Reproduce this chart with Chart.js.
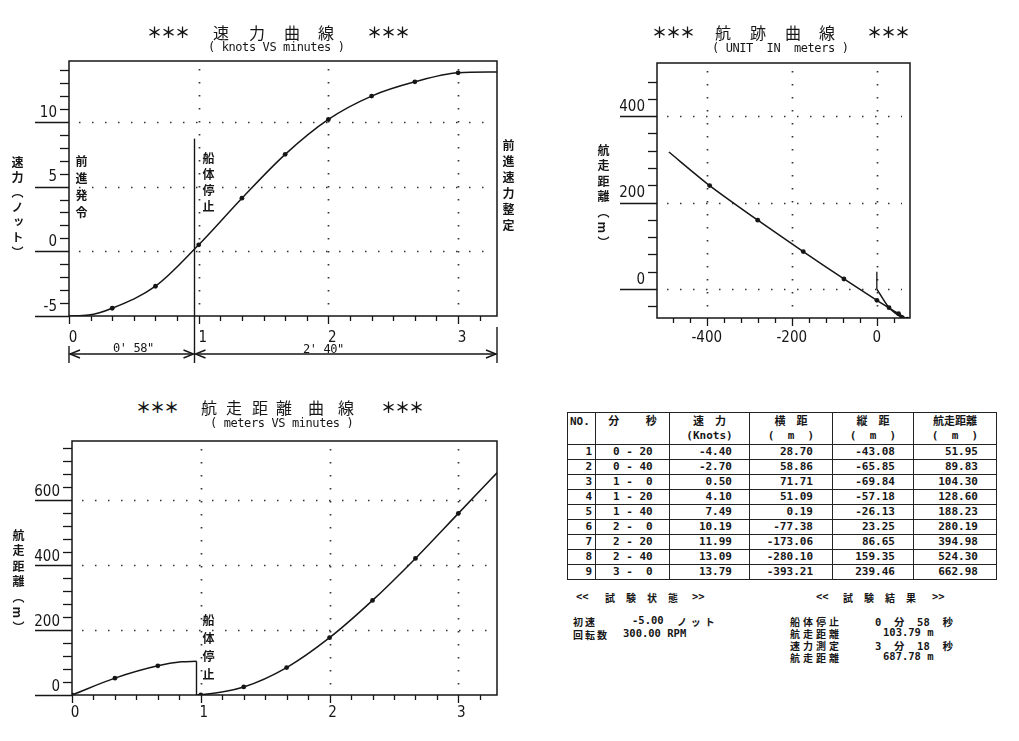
<!DOCTYPE html>
<html lang="ja">
<head>
<meta charset="utf-8">
<title>速力曲線</title>
<script src="https://cdn.jsdelivr.net/npm/chart.js@4.4.1/dist/chart.umd.min.js"></script>
<style>
  body { margin:0; width:1019px; height:741px; background:#fff; position:relative; overflow:hidden; color:#161616; }
  canvas { position:absolute; }
  .t { position:absolute; white-space:pre; line-height:1; }
  .ttl { font:16px 'Noto Sans CJK JP', sans-serif; }
  .star { font:bold 15px 'Noto Sans CJK JP', sans-serif; letter-spacing:-1px; }
  .sub { font:12px 'DejaVu Sans Mono', monospace; letter-spacing:-0.4px; }
  .v { position:absolute; writing-mode:vertical-rl; font:bold 12px 'Noto Sans CJK JP', sans-serif; line-height:1; width:13px; white-space:nowrap; }
  .sm { font:bold 10.5px 'DejaVu Sans Mono', 'Noto Sans CJK JP', monospace; }
  .kj { font:bold 10px 'Noto Sans CJK JP', sans-serif; }
  table { position:absolute; left:567px; top:412px; width:429px; border-collapse:collapse; table-layout:fixed;
          font:bold 11px 'DejaVu Sans Mono', 'Noto Sans CJK JP', monospace; }
  td, th { border:1px solid #222; padding:0; height:14px; line-height:14px; white-space:pre; }
  th { height:29px; vertical-align:top; text-align:center; font-weight:bold; padding-top:2px; }
  td { text-align:right; }
</style>
</head>
<body>

<canvas id="speedChart" width="520" height="335" style="left:0;top:40px"></canvas>
<canvas id="trackChart" width="439" height="330" style="left:580px;top:40px"></canvas>
<canvas id="runChart" width="520" height="321" style="left:0;top:420px"></canvas>

<!-- titles -->
<div class="t star" style="left:147px;top:21px">＊＊＊</div>
<div class="t ttl" style="left:213px;top:20px">速</div>
<div class="t ttl" style="left:249px;top:20px">力</div>
<div class="t ttl" style="left:284px;top:20px">曲</div>
<div class="t ttl" style="left:318px;top:20px">線</div>
<div class="t star" style="left:367px;top:21px">＊＊＊</div>
<div class="t sub" style="left:208px;top:40px">( knots VS minutes )</div>

<div class="t star" style="left:652px;top:21px">＊＊＊</div>
<div class="t ttl" style="left:715px;top:20px">航</div>
<div class="t ttl" style="left:750px;top:20px">跡</div>
<div class="t ttl" style="left:785px;top:20px">曲</div>
<div class="t ttl" style="left:819px;top:20px">線</div>
<div class="t star" style="left:867px;top:21px">＊＊＊</div>
<div class="t sub" style="left:712px;top:41px">( UNIT  IN  meters )</div>

<div class="t star" style="left:136px;top:396px">＊＊＊</div>
<div class="t ttl" style="left:201px;top:395px">航</div>
<div class="t ttl" style="left:226px;top:395px">走</div>
<div class="t ttl" style="left:252px;top:395px">距</div>
<div class="t ttl" style="left:276px;top:395px">離</div>
<div class="t ttl" style="left:308px;top:395px">曲</div>
<div class="t ttl" style="left:338px;top:395px">線</div>
<div class="t star" style="left:381px;top:396px">＊＊＊</div>
<div class="t sub" style="left:210px;top:416px">( meters VS minutes )</div>

<!-- vertical labels -->
<div class="v" style="left:10px;top:156px;letter-spacing:3px">速力（ノット）</div>
<div class="v" style="left:74px;top:155px;letter-spacing:5px">前進発令</div>
<div class="v" style="left:201px;top:152px;letter-spacing:4px">船体停止</div>
<div class="v" style="left:501px;top:139px;letter-spacing:4px">前進速力整定</div>
<div class="v" style="left:596px;top:144px;letter-spacing:3.5px">航走距離（m）</div>
<div class="v" style="left:201px;top:614px;letter-spacing:6px">船体停止</div>
<div class="v" style="left:11px;top:529px;letter-spacing:3.5px">航走距離（m）</div>

<div class="t sub" style="left:113px;top:341px">0' 58"</div>
<div class="t sub" style="left:303px;top:342px">2' 40"</div>

<!-- table -->
<table>
  <colgroup><col style="width:28px"><col style="width:74px"><col style="width:80px"><col style="width:83px"><col style="width:81px"><col style="width:83px"></colgroup>
  <thead><tr>
    <th style="text-align:left;padding-left:2px">NO.</th>
    <th>分    秒</th>
    <th>速　力<br>(Knots)</th>
    <th>横　距<br>(  m  )</th>
    <th>縦　距<br>(  m  )</th>
    <th>航走距離<br>(  m  )</th>
  </tr></thead>
  <tbody id="rows"></tbody>
</table>

<!-- test conditions / results -->
<div class="t sm" style="left:576px;top:590px">&lt;&lt;</div>
<div class="t kj" style="left:605px;top:590px;letter-spacing:11px">試験状態</div>
<div class="t sm" style="left:692px;top:590px">&gt;&gt;</div>
<div class="t kj" style="left:573px;top:614px;letter-spacing:2px">初速</div>
<div class="t sm" style="left:632px;top:614px">-5.00</div>
<div class="t kj" style="left:677px;top:614px;letter-spacing:4px">ノット</div>
<div class="t kj" style="left:573px;top:627px;letter-spacing:2px">回転数</div>
<div class="t sm" style="left:623px;top:627px">300.00 RPM</div>

<div class="t sm" style="left:816px;top:590px">&lt;&lt;</div>
<div class="t kj" style="left:843px;top:590px;letter-spacing:11px">試験結果</div>
<div class="t sm" style="left:932px;top:590px">&gt;&gt;</div>
<div class="t kj" style="left:790px;top:614px;letter-spacing:3px">船体停止</div>
<div class="t sm" style="left:875px;top:614px">0  分  58  秒</div>
<div class="t kj" style="left:790px;top:626px;letter-spacing:3px">航走距離</div>
<div class="t sm" style="left:883px;top:626px">103.79 m</div>
<div class="t kj" style="left:790px;top:638px;letter-spacing:3px">速力測定</div>
<div class="t sm" style="left:875px;top:638px">3  分  18  秒</div>
<div class="t kj" style="left:790px;top:650px;letter-spacing:3px">航走距離</div>
<div class="t sm" style="left:883px;top:650px">687.78 m</div>

<script>
// trial table (every 20 s)
const tableNo = [1, 2, 3, 4, 5, 6, 7, 8, 9];
const tableTimeLabel = ['0 - 20', '0 - 40', '1 -  0', '1 - 20', '1 - 40', '2 -  0', '2 - 20', '2 - 40', '3 -  0'];
const tableMinutes = [0.3333, 0.6667, 1, 1.3333, 1.6667, 2, 2.3333, 2.6667, 3];
const tableSpeed = [-4.40, -2.70, 0.50, 4.10, 7.49, 10.19, 11.99, 13.09, 13.79];
const tableLateral = [28.70, 58.86, 71.71, 51.09, 0.19, -77.38, -173.06, -280.10, -393.21];
const tableAhead = [-43.08, -65.85, -69.84, -57.18, -26.13, 23.25, 86.65, 159.35, 239.46];
const tableRun = [51.95, 89.83, 104.30, 128.60, 188.23, 280.19, 394.98, 524.30, 662.98];

// speed curve (knots vs minutes)
const speedTime = [0, 0.15, 0.3333, 0.6667, 1, 1.3333, 1.6667, 2, 2.3333, 2.6667, 3, 3.3];
const speedKnots = [-5.0, -4.93, -4.40, -2.70, 0.50, 4.10, 7.49, 10.19, 11.99, 13.09, 13.79, 13.85];
const stopTime = 0.9667; // 0'58"
const stopMarkTop = 8.7;

// track (m)
const trackX = [0, 28.70, 58.86, 71.71, 51.09, 0.19, -77.38, -173.06, -280.10, -393.21, -489];
const trackY = [0, -43.08, -65.85, -69.84, -57.18, -26.13, 23.25, 86.65, 159.35, 239.46, 317];
const headingX = [0, 0];
const headingY = [0, 40];

// run distance (m vs minutes)
const runBeforeTime = [0, 0.3333, 0.6667, 0.85, 0.9667];
const runBefore = [0, 51.95, 89.83, 102, 103.79];
const runDropTime = [0.9667, 0.9667];
const runDrop = [103.79, 0];
const runAfterTime = [0.9667, 1, 1.3333, 1.6667, 2, 2.3333, 2.6667, 3, 3.3];
const runAfter = [0, 0.51, 24.81, 84.44, 176.40, 291.19, 420.51, 559.19, 684];
const runMarkTime = [0, 0.3333, 0.6667, 1, 1.3333, 1.6667, 2, 2.3333, 2.6667, 3];
const runMarkDist = [0, 51.95, 89.83, 0.51, 24.81, 84.44, 176.40, 291.19, 420.51, 559.19];

// tick labels
const speedXTicks = [0, 1, 2, 3];
const speedYTicks = [-5, 0, 5, 10];
const trackXTicks = [-400, -200, 0];
const trackYTicks = [0, 200, 400];
const runXTicks = [0, 1, 2, 3];
const runYTicks = [0, 200, 400, 600];

// table body
const tb = document.getElementById('rows');
tableNo.forEach((n, i) => {
    const tr = document.createElement('tr');
    tr.innerHTML = '<td style="padding-right:3px">' + n + '</td>'
        + '<td style="text-align:left;padding-left:17px">' + tableTimeLabel[i] + '</td>'
        + '<td style="padding-right:17px">' + tableSpeed[i].toFixed(2) + '</td>'
        + '<td style="padding-right:19px">' + tableLateral[i].toFixed(2) + '</td>'
        + '<td style="padding-right:18px">' + tableAhead[i].toFixed(2) + '</td>'
        + '<td style="padding-right:18px">' + tableRun[i].toFixed(2) + '</td>';
    tb.appendChild(tr);
});

const pts = (xs, ys) => xs.map((v, i) => ({x: v, y: ys[i]}));
const ink = '#161616';
const tickFont = {family: "'Liberation Sans Narrow', 'DejaVu Sans Condensed', sans-serif", size: 15};

function seg(ctx, x1, y1, x2, y2) {
    ctx.beginPath(); ctx.moveTo(x1, y1); ctx.lineTo(x2, y2); ctx.stroke();
}

// dotted grid, frame, tick marks
function paper(o) {
    return {
        id: 'paper',
        beforeDatasetsDraw(chart) {
            const {ctx, chartArea: a, scales: {x, y}} = chart;
            ctx.save();
            ctx.strokeStyle = '#333'; ctx.lineWidth = 1.7; ctx.setLineDash([1.5, 11.5]);
            o.xGrid.forEach(v => { const p = Math.round(x.getPixelForValue(v)) + 0.5; seg(ctx, p, a.top + 8, p, a.bottom); });
            o.yGrid.forEach(v => { const p = Math.round(y.getPixelForValue(v)) + 0.5; seg(ctx, a.left + 10, p, a.right - 8, p); });
            ctx.restore();
        },
        afterDatasetsDraw(chart) {
            const {ctx, chartArea: a, scales: {x, y}} = chart;
            ctx.save();
            ctx.strokeStyle = ink; ctx.lineWidth = 1.5;
            ctx.strokeRect(a.left, a.top, a.right - a.left, a.bottom - a.top);
            ctx.lineWidth = 1.3;
            for (let v = o.yMinor[0]; v <= o.yMinor[1] + 1e-6; v += o.yMinor[2]) {
                const p = Math.round(y.getPixelForValue(v)) + 0.5;
                const major = o.yMajor.some(m => Math.abs(m - v) < 1e-6);
                seg(ctx, a.left - (major ? o.longTick : 9), p, a.left, p);
            }
            for (let v = o.xMinor[0]; v <= o.xMinor[1] + 1e-6; v += o.xMinor[2]) {
                const p = Math.round(x.getPixelForValue(v)) + 0.5;
                const major = o.xMajor.some(m => Math.abs(m - v) < 1e-6);
                seg(ctx, p, a.bottom, p, a.bottom + (major ? 8 : 5));
            }
            if (o.extra) o.extra(chart);
            ctx.restore();
        }
    };
}

function arrowLine(ctx, xa, xb, yy) {
    seg(ctx, xa, yy, xb, yy);
    ctx.beginPath();
    ctx.moveTo(xa + 10, yy - 4); ctx.lineTo(xa, yy); ctx.lineTo(xa + 10, yy + 4);
    ctx.moveTo(xb - 10, yy - 4); ctx.lineTo(xb, yy); ctx.lineTo(xb - 10, yy + 4);
    ctx.stroke();
}

function makeChart(id, datasets, s, plugin) {
    return new Chart(document.getElementById(id), {
        type: 'scatter',
        data: {datasets},
        options: {
            responsive: false,
            animation: false,
            layout: {padding: s.pad},
            plugins: {legend: {display: false}, tooltip: {enabled: false}},
            scales: {
                x: {
                    type: 'linear', min: s.xMin, max: s.xMax,
                    afterFit: sc => { sc.height = s.xH; },
                    afterBuildTicks: sc => { sc.ticks = s.xTicks.map(v => ({value: v})); },
                    grid: {display: false, drawTicks: false}, border: {display: false},
                    ticks: {font: tickFont, color: ink, padding: s.xPad, labelOffset: s.xOff, maxRotation: 0, autoSkip: false}
                },
                y: {
                    type: 'linear', min: s.yMin, max: s.yMax,
                    afterFit: sc => { sc.width = s.yW; },
                    afterBuildTicks: sc => { sc.ticks = s.yTicks.map(v => ({value: v})); },
                    grid: {display: false, drawTicks: false}, border: {display: false},
                    ticks: {font: tickFont, color: ink, padding: 12, labelOffset: s.yOff, autoSkip: false}
                }
            }
        },
        plugins: [plugin]
    });
}

const curve = (data, extra) => Object.assign({data, showLine: true, borderColor: ink, borderWidth: 1.5, pointRadius: 0}, extra);
const marks = data => ({data, showLine: false, pointRadius: 2.4, pointBackgroundColor: ink, pointBorderWidth: 0});

// 速力曲線
makeChart('speedChart', [
    curve(pts(speedTime, speedKnots), {cubicInterpolationMode: 'monotone'}),
    marks(pts(tableMinutes, tableSpeed))
], {
    pad: {top: 20, right: 23, left: 0, bottom: 0}, xH: 59, yW: 69,
    xMin: 0, xMax: 3.3, yMin: -5, yMax: 14.7,
    xTicks: speedXTicks, yTicks: speedYTicks, xPad: 13, xOff: 4, yOff: -9
}, paper({
    xGrid: [1, 2, 3], yGrid: [0, 5, 10],
    xMinor: [0, 3.3, 1 / 6], xMajor: speedXTicks,
    yMinor: [-5, 14, 1], yMajor: speedYTicks, longTick: 34,
    extra(chart) {
        const {ctx, chartArea: a, scales: {x, y}} = chart;
        const xs = Math.round(x.getPixelForValue(stopTime)) + 0.5;
        const x0 = a.left, x1 = a.right;
        ctx.lineWidth = 1.4;
        seg(ctx, xs, y.getPixelForValue(stopMarkTop), xs, a.bottom + 47);
        seg(ctx, x0, a.bottom + 30, x0, a.bottom + 47);
        seg(ctx, x1, a.bottom + 11, x1, a.bottom + 47);
        arrowLine(ctx, x0 + 1, xs - 1, a.bottom + 38);
        arrowLine(ctx, xs + 1, x1 - 1, a.bottom + 38);
    }
}));

// 航跡曲線
makeChart('trackChart', [
    curve(pts(trackX, trackY), {tension: 0.25}),
    curve(pts(headingX, headingY), {borderWidth: 1.3}),
    marks(pts(tableLateral, tableAhead))
], {
    pad: {top: 23, right: 109, left: 0, bottom: 0}, xH: 52, yW: 77,
    xMin: -517, xMax: 78, yMin: -67, yMax: 523,
    xTicks: trackXTicks, yTicks: trackYTicks, xPad: 11, xOff: 0, yOff: -9
}, paper({
    xGrid: [-400, -200, 0], yGrid: [0, 200, 400],
    xMinor: [-480, 40, 40], xMajor: trackXTicks,
    yMinor: [-40, 480, 40], yMajor: trackYTicks, longTick: 37
}));

// 航走距離曲線
makeChart('runChart', [
    curve(pts(runBeforeTime, runBefore), {cubicInterpolationMode: 'monotone'}),
    curve(pts(runDropTime, runDrop), {borderWidth: 1.4}),
    curve(pts(runAfterTime, runAfter), {cubicInterpolationMode: 'monotone'}),
    marks(pts(runMarkTime, runMarkDist))
], {
    pad: {top: 17, right: 23, left: 0, bottom: 0}, xH: 46, yW: 72,
    xMin: 0, xMax: 3.3, yMin: 0, yMax: 782,
    xTicks: runXTicks, yTicks: runYTicks, xPad: 9, xOff: 3, yOff: -8
}, paper({
    xGrid: [1, 2, 3], yGrid: [200, 400, 600],
    xMinor: [0, 3.3, 1 / 6], xMajor: runXTicks,
    yMinor: [0, 760, 40], yMajor: runYTicks, longTick: 37
}));
</script>
</body>
</html>
